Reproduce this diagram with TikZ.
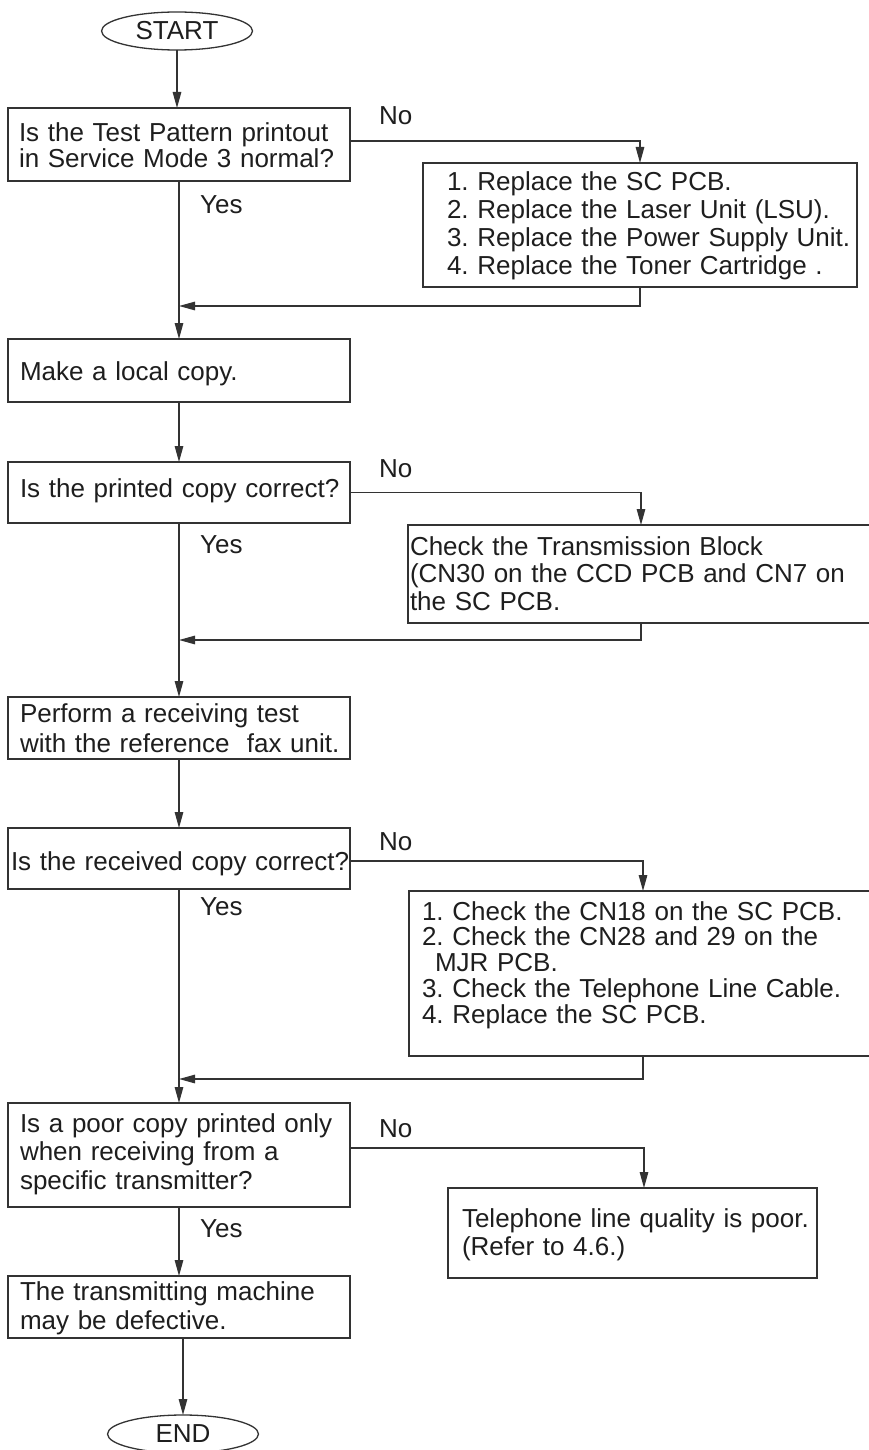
\documentclass[tikz,border=0pt]{standalone}
\usepackage{fontspec}
\setmainfont{Liberation Sans}
\usetikzlibrary{arrows.meta,shapes.geometric}
\definecolor{ink}{HTML}{1E1E1E}
\definecolor{linec}{HTML}{333333}
\frenchspacing
\begin{document}
\begin{tikzpicture}[x=1pt,y=-1pt,
  every node/.style={text=ink},
  box/.style={draw=linec, line width=1.3pt, rectangle, anchor=north west,
    inner ysep=0pt, outer sep=0pt, align=left},
  geom/.style n args={4}{inner xsep=#1, text width=#2, text height=#3, text depth=#4},
  fs/.style={font=\fontsize{26pt}{#1}\selectfont\frenchspacing},
  term/.style={draw=linec, line width=1.3pt, ellipse, inner sep=0pt, outer sep=0pt,
    minimum width=151pt, minimum height=38pt, font=\fontsize{26pt}{28pt}\selectfont},
  lbl/.style={anchor=base west, inner sep=0pt, font=\fontsize{26pt}{28pt}\selectfont},
  conn/.style={draw=linec, line width=1.3pt},
  arr/.style={conn, -{Triangle[length=16pt,width=8.5pt]}}
]
\fill[white] (0,0) rectangle (869,1450);
\useasboundingbox (0,0) rectangle (869,1450);
\clip (0,0) rectangle (869,1450);

% terminals
\node[term] (start) at (177,31) {START};
\node[term] (end) at (183,1434) {END};

% boxes
\node[box, geom={11pt}{320pt}{34pt}{39pt}, fs=26pt] (box1) at (8,108)
  {\mbox{Is the Test Pattern printout}\\\mbox{in Service Mode 3 normal?}};
\node[box, geom={24pt}{386pt}{27pt}{97pt}, fs=28.3pt] (box2) at (423,163)
  {\mbox{1. Replace the SC PCB.}\\\mbox{2. Replace the Laser Unit (LSU).}\\\mbox{3. Replace the Power Supply Unit.}\\\mbox{4. Replace the Toner Cartridge .}};
\node[box, geom={12pt}{318pt}{41pt}{22pt}, fs=28pt] (box3) at (8,339)
  {\mbox{Make a local copy.}};
\node[box, geom={12pt}{318pt}{35pt}{26pt}, fs=28pt] (box4) at (8,462)
  {\mbox{Is the printed copy correct?}};
\node[box, geom={2pt}{462pt}{30pt}{68pt}, fs=27.5pt] (box5) at (408,525)
  {\mbox{Check the Transmission Block}\\\mbox{(CN30 on the CCD PCB and CN7 on}\\\mbox{the SC PCB.}};
\node[box, geom={12pt}{318pt}{25pt}{37pt}, fs=30pt] (box6) at (8,697)
  {\mbox{Perform a receiving test}\\\mbox{with the reference~ fax unit.}};
\node[box, geom={3pt}{336pt}{42pt}{19pt}, fs=28pt] (box7) at (8,828)
  {\mbox{Is the received copy correct?}};
\node[box, geom={13pt}{442pt}{29pt}{136pt}, fs=25.8pt] (box8) at (409,891)
  {\mbox{1. Check the CN18 on the SC PCB.}\\\mbox{2. Check the CN28 and 29 on the}\\\mbox{\hspace*{13pt}MJR PCB.}\\\mbox{3. Check the Telephone Line Cable.}\\\mbox{4. Replace the SC PCB.}};
\node[box, geom={12pt}{318pt}{29pt}{75pt}, fs=28.5pt] (box9) at (8,1103)
  {\mbox{Is a poor copy printed only}\\\mbox{when receiving from a}\\\mbox{specific transmitter?}};
\node[box, geom={14pt}{341pt}{39pt}{51pt}, fs=28pt] (box10) at (448,1188)
  {\mbox{Telephone line quality is poor.}\\\mbox{(Refer to 4.6.)}};
\node[box, geom={12pt}{318pt}{24pt}{38pt}, fs=29pt] (box11) at (8,1276)
  {\mbox{The transmitting machine}\\\mbox{may be defective.}};

% labels
\node[lbl] (no1) at (379,125) {No};
\node[lbl] (no2) at (379,477) {No};
\node[lbl] (no3) at (379,850) {No};
\node[lbl] (no4) at (379,1137) {No};
\node[lbl] (yes1) at (200,213) {Yes};
\node[lbl] (yes2) at (200,553) {Yes};
\node[lbl] (yes3) at (200,915) {Yes};
\node[lbl] (yes4) at (200,1237) {Yes};

% return points on the main line
\coordinate (r1) at (179,306);
\coordinate (r2) at (179,640);
\coordinate (r3) at (179,1079);

% connectors
\draw[arr] (start) -- (start |- box1.north);
\draw[arr] ([yshift=3.5pt]box1.east) -| (box2.north);
\draw[arr] (box1.south) -- (box3.north);
\draw[arr] (box2.south) |- (r1);
\draw[arr] (box3.south) -- (box4.north);
\draw[arr] (box4.east) -| (box5.north);
\draw[arr] (box5.south) |- (r2);
\draw[arr] (box4.south) -- (box6.north);
\draw[arr] (box6.south) -- (box7.north);
\draw[arr] ([yshift=-2.5pt]box7.east) -| (box8.north);
\draw[arr] (box8.south) |- (r3);
\draw[arr] (box7.south) -- (box9.north);
\draw[arr] ([yshift=7pt]box9.east) -| ([xshift=11.5pt]box10.north);
\draw[arr] (box9.south) -- (box11.north);
\draw[arr] (box11.south -| end) -- (end);
\end{tikzpicture}
\end{document}
